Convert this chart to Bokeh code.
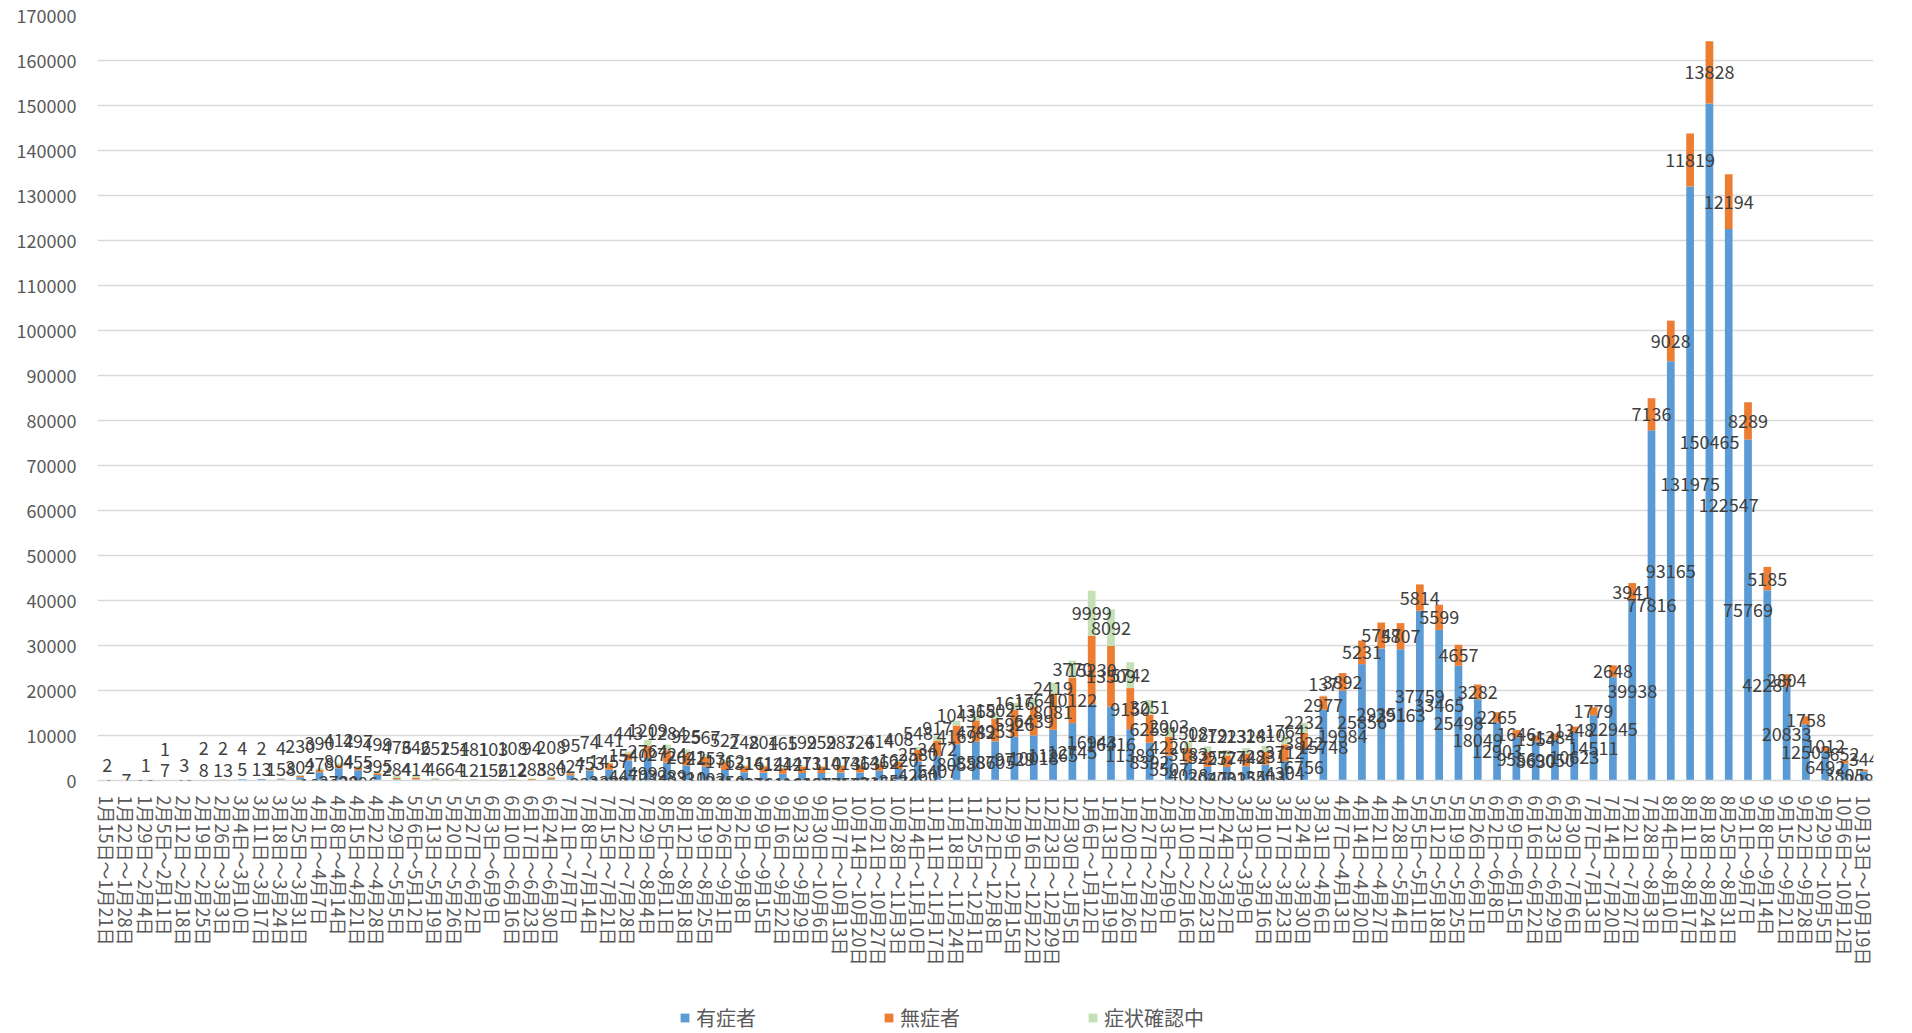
from bokeh.plotting import figure
from bokeh.layouts import column
from bokeh.models import (ColumnDataSource, FactorRange, Range1d, SingleIntervalTicker,
                          BasicTickFormatter, Legend, LegendItem, LabelSet)
from bokeh.core.properties import value
from bokeh.embed import file_html
from bokeh.resources import INLINE

weeks = [
    "1月15日～1月21日", "1月22日～1月28日", "1月29日～2月4日", "2月5日～2月11日", "2月12日～2月18日",
    "2月19日～2月25日", "2月26日～3月3日", "3月4日～3月10日", "3月11日～3月17日", "3月18日～3月24日",
    "3月25日～3月31日", "4月1日～4月7日", "4月8日～4月14日", "4月15日～4月21日", "4月22日～4月28日",
    "4月29日～5月5日", "5月6日～5月12日", "5月13日～5月19日", "5月20日～5月26日", "5月27日～6月2日",
    "6月3日～6月9日", "6月10日～6月16日", "6月17日～6月23日", "6月24日～6月30日", "7月1日～7月7日",
    "7月8日～7月14日", "7月15日～7月21日", "7月22日～7月28日", "7月29日～8月4日", "8月5日～8月11日",
    "8月12日～8月18日", "8月19日～8月25日", "8月26日～9月1日", "9月2日～9月8日", "9月9日～9月15日",
    "9月16日～9月22日", "9月23日～9月29日", "9月30日～10月6日", "10月7日～10月13日", "10月14日～10月20日",
    "10月21日～10月27日", "10月28日～11月3日", "11月4日～11月10日", "11月11日～11月17日", "11月18日～11月24日",
    "11月25日～12月1日", "12月2日～12月8日", "12月9日～12月15日", "12月16日～12月22日", "12月23日～12月29日",
    "12月30日～1月5日", "1月6日～1月12日", "1月13日～1月19日", "1月20日～1月26日", "1月27日～2月2日",
    "2月3日～2月9日", "2月10日～2月16日", "2月17日～2月23日", "2月24日～3月2日", "3月3日～3月9日",
    "3月10日～3月16日", "3月17日～3月23日", "3月24日～3月30日", "3月31日～4月6日", "4月7日～4月13日",
    "4月14日～4月20日", "4月21日～4月27日", "4月28日～5月4日", "5月5日～5月11日", "5月12日～5月18日",
    "5月19日～5月25日", "5月26日～6月1日", "6月2日～6月8日", "6月9日～6月15日", "6月16日～6月22日",
    "6月23日～6月29日", "6月30日～7月6日", "7月7日～7月13日", "7月14日～7月20日", "7月21日～7月27日",
    "7月28日～8月3日", "8月4日～8月10日", "8月11日～8月17日", "8月18日～8月24日", "8月25日～8月31日",
    "9月1日～9月7日", "9月8日～9月14日", "9月15日～9月21日", "9月22日～9月28日", "9月29日～10月5日",
    "10月6日～10月12日", "10月13日～10月19日",
]

# 有症者
symptomatic = [
    4, 7, 12, 12, 40, 95, 135, 294, 318, 251,
    708, 1829, 2730, 2296, 1233, 274, 231, 241, 172, 23,
    20, 34, 55, 279, 1166, 2212, 2389, 4470, 4992, 3989,
    3310, 3103, 2350, 1831, 1761, 1495, 1643, 1677, 1756, 1774,
    2156, 2534, 4260, 5407, 8058, 8586, 8705, 9729, 10018, 11265,
    12745, 16943, 16416, 11389, 8392, 5507, 4028, 3047, 3002, 3154,
    3503, 4304, 6756, 15748, 19984, 25856, 29351, 29163, 37759, 33465,
    25498, 18049, 12903, 9556, 8630, 9050, 10623, 14511, 22945, 39938,
    77816, 93165, 131975, 150465, 122547, 75769, 42287, 20833, 12503, 6492,
    3805, 2083,
]
# 無症者
asymptomatic = [
    2, 0, 1, 7, 3, 8, 13, 5, 13, 158,
    302, 478, 804, 455, 395, 284, 414, 46, 64, 121,
    156, 212, 288, 380, 427, 453, 1457, 1540, 2764, 2724,
    2642, 2153, 1762, 1316, 1414, 1242, 1471, 1310, 1473, 1463,
    1462, 1620, 2580, 3472, 4169, 4782, 4953, 5926, 6439, 8081,
    10122, 15230, 13509, 9150, 6253, 4220, 3183, 3257, 2574, 2742,
    2831, 3712, 3822, 2977, 3892, 5231, 5747, 5807, 5814, 5599,
    4657, 3282, 2265, 1646, 1354, 1384, 1348, 1779, 2648, 3941,
    7136, 9028, 11819, 13828, 12194, 8289, 5185, 2804, 1758, 1012,
    652, 344,
]
# 症状確認中
unconfirmed = [
    0, 0, 0, 1, 0, 2, 2, 4, 2, 4,
    230, 390, 412, 497, 499, 476, 346, 252, 154, 181,
    103, 108, 94, 208, 95, 74, 141, 443, 1209, 1284,
    925, 567, 527, 248, 204, 165, 199, 259, 287, 326,
    414, 408, 548, 917, 1043, 1368, 1502, 1616, 1764, 2419,
    3770, 9999, 8092, 5742, 3251, 2003, 1508, 1279, 1223, 1328,
    1410, 1764, 2232, 137, 0, 0, 0, 0, 0, 0,
    0, 0, 0, 0, 0, 0, 0, 0, 0, 0,
    0, 0, 0, 0, 0, 0, 0, 0, 0, 0,
    0, 0,
]

series_names = ["有症者", "無症者", "症状確認中"]
series_colors = ["#5B9BD5", "#ED7D31", "#C5E0B4"]

FONT = "Noto Sans CJK JP"

src = ColumnDataSource(dict(week=weeks, s=symptomatic, a=asymptomatic, u=unconfirmed))

p = figure(
    width=1912, height=1000,
    x_range=FactorRange(factors=weeks, range_padding=0),
    y_range=Range1d(0, 170000),
    output_backend="svg", toolbar_location=None,
    min_border_left=97, min_border_right=39, min_border_top=15, min_border_bottom=220,
)
p.outline_line_color = None
p.background_fill_color = "white"
p.border_fill_color = "white"

renderers = p.vbar_stack(["s", "a", "u"], x="week", width=0.4, color=series_colors,
                         line_color=None, source=src)

# data labels (segment centres, spread apart when they would collide)
GAP = 4700
FLOOR = -2700
lx, ly, lt = [], [], []
for i, w in enumerate(weeks):
    vals = [symptomatic[i], asymptomatic[i], unconfirmed[i]]
    base = 0
    cents, texts = [], []
    for v in vals:
        if v > 0:
            cents.append(base + v / 2)
            texts.append(str(v))
        base += v
    ys = list(cents)
    for k in range(1, len(ys)):
        ys[k] = max(ys[k], ys[k - 1] + GAP)
    if ys:
        shift = (sum(ys) - sum(cents)) / len(ys) / 2
        ys = [y - shift for y in ys]
        if ys[0] < FLOOR:
            d = FLOOR - ys[0]
            ys = [y + d for y in ys]
    for y, t in zip(ys, texts):
        lx.append(w)
        ly.append(y)
        lt.append(t)

lab_src = ColumnDataSource(dict(x=lx, y=ly, t=lt))
labels = LabelSet(x="x", y="y", text="t", source=lab_src, text_align="center",
                  text_baseline="middle", text_font=value(FONT), text_font_size="18px",
                  text_color="#404040")
p.add_layout(labels)

# axes
p.yaxis.ticker = SingleIntervalTicker(interval=10000)
p.yaxis.formatter = BasicTickFormatter(use_scientific=False)
p.yaxis.axis_line_color = None
p.yaxis.major_tick_line_color = None
p.yaxis.minor_tick_line_color = None
p.yaxis.major_tick_out = 0
p.yaxis.major_tick_in = 0
p.yaxis.major_label_standoff = 17
p.yaxis.major_label_text_font = FONT
p.yaxis.major_label_text_font_size = "18px"
p.yaxis.major_label_text_color = "#595959"

p.xaxis.axis_line_color = "#D9D9D9"
p.xaxis.axis_line_width = 1.3
p.xaxis.major_tick_line_color = None
p.xaxis.minor_tick_line_color = None
p.xaxis.major_tick_out = 0
p.xaxis.major_label_orientation = "vertical"
p.xaxis.major_label_standoff = 15
p.xaxis.major_label_text_font = FONT
p.xaxis.major_label_text_font_size = "18px"
p.xaxis.major_label_text_color = "#595959"

p.xgrid.grid_line_color = None
p.ygrid.grid_line_color = "#D9D9D9"
p.ygrid.grid_line_width = 1.3

# legend strip underneath the chart (its frame is aligned with the chart frame)
lp = figure(width=1912, height=33, x_range=Range1d(0, 1), y_range=Range1d(0, 1),
            output_backend="svg", toolbar_location=None, min_border=0,
            x_axis_location=None, y_axis_location=None)
lp.outline_line_color = None
lp.grid.visible = False
legend_renderers = [lp.vbar(x=[10], top=[10], bottom=[9], width=0.1, color=c, line_color=None)
                    for c in series_colors]
legend = Legend(
    items=[LegendItem(label=n, renderers=[r]) for n, r in zip(series_names, legend_renderers)],
    location=(582, 1), orientation="horizontal",
    glyph_width=11, glyph_height=11, label_standoff=6, spacing=127, label_height=20,
    padding=0, margin=0, border_line_color=None, background_fill_alpha=0,
    label_text_font=FONT, label_text_font_size="20px", label_text_color="#595959",
)
lp.add_layout(legend)

open("out.html", "w").write(file_html(column(p, lp), INLINE))
